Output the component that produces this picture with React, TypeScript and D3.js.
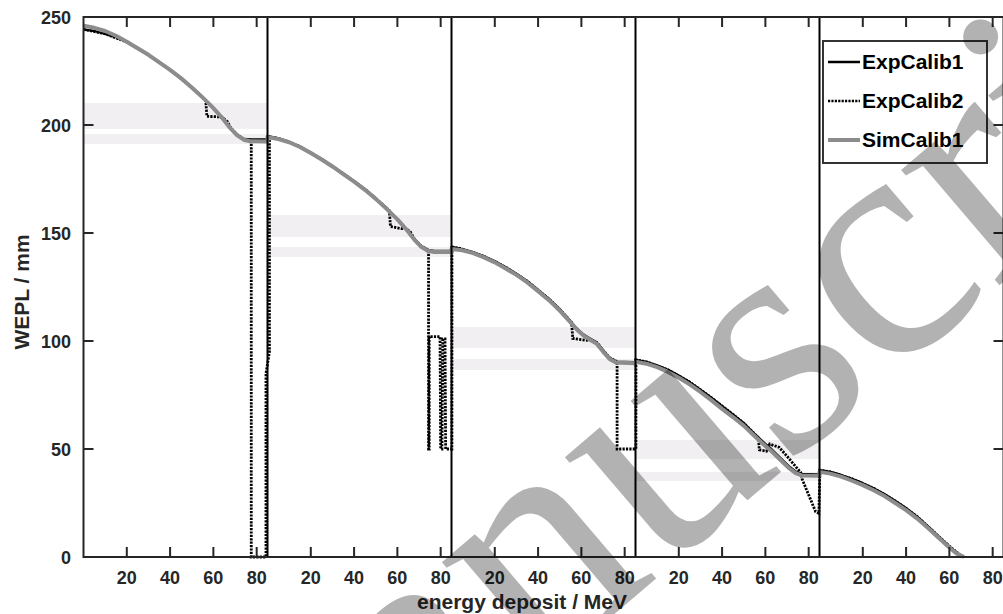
import React from 'react';
import * as d3 from 'd3';

const WIDTH = 1003;
const HEIGHT = 614;
const PANEL_SPAN = 85;
const PANEL_COUNT = 5;
const xTickLocal = [20, 40, 60, 80];
const yTicks = [0, 50, 100, 150, 200, 250];

type Pt = [number, number];

// ExpCalib1 (black solid), per panel, local energy deposit (MeV) vs WEPL (mm)
const expCalib1: Pt[][] = [
  [[0,244.3],[5,243.5],[10,242.2],[15,240.6],[20,238.4],[25,235.5],[30,232.5],[35,229],[40,225.5],[45,221.8],[50,217.5],[55,213],[60,208],[64,203.5],[68,198.5],[71,195.5],[74,193.6],[77,193.3],[85,193.3]],
  [[0,195],[5,193.8],[10,192.3],[15,190],[20,187.2],[25,184.2],[30,181],[35,177.5],[40,174],[45,170.3],[50,166],[55,161.5],[60,156.5],[64,152],[68,147],[71,144],[74,142.2],[77,141.7],[85,141.7]],
  [[0,143.6],[5,142.6],[10,141.2],[15,139.2],[20,137],[25,134.2],[30,131.2],[35,127.7],[40,123.7],[45,119.5],[50,114.7],[55,109.2],[58,105.7],[61,103],[64,101.2],[67,99.4],[70,95.7],[73,92.3],[76,90.5],[85,90.2]],
  [[0,91.3],[5,90.4],[10,88.8],[15,86.7],[20,84],[25,81],[30,77.5],[35,73.8],[40,69.8],[45,66],[50,62],[55,57],[60,52.4],[63,49.8],[67,45.8],[71,42],[74,39.6],[77,38.5],[85,38.3]],
  [[0,40.2],[5,39.4],[10,38],[15,36.2],[20,34.2],[25,31.8],[30,29.2],[35,26],[40,22.7],[45,18.8],[50,14.3],[55,9.6],[60,5],[63,2.3],[66.2,0]],
];

// ExpCalib2 (black dotted)
const expCalib2: Pt[][] = [
  [[0,244.3],[10,242.2],[20,238.4],[30,232.5],[40,225.5],[50,217.5],[56.5,211.3],[57,204],[62,203.8],[64,203.6],[66.5,201.5],[68,198.6],[71,195.5],[74,193.6],[77.5,193.1],[77.5,0],[84.3,0],[84.3,85]],
  [[0.9,95],[0.9,194.3],[5,193.8],[15,190],[25,184.2],[35,177.5],[45,170.3],[50,166],[55,161.5],[56.3,160.3],[56.8,153],[62,152],[64,152],[66,150.5],[68,147],[71,144],[74.4,142.1],[74.4,50],[74.7,50],[74.7,102],[79.7,102],[80,50],[80.6,50],[81,101],[82,101],[82.3,50],[84.8,50]],
  [[0.2,50],[0.2,143.6],[5,142.6],[15,139.2],[25,134.2],[35,127.7],[45,119.5],[50,114.7],[55.5,108.6],[56,101.2],[62,100.3],[64.5,100.5],[67.5,99],[70,95.7],[73,92.3],[76.5,90.4],[76.5,50],[84.8,50]],
  [[0.2,50],[0.2,91.3],[5,90.4],[15,86.7],[25,81],[35,73.8],[45,66],[50,62],[55,57],[56.8,55.2],[57.2,49.6],[60.5,49],[62,52.3],[66.3,50.8],[70,46.7],[73,43],[76.3,39.2],[77,36],[83.2,21],[84.7,20.2]],
  [[0.2,40.2],[5,39.4],[15,36.2],[25,31.8],[35,26],[45,18.8],[55,9.6],[60,5],[66.2,0]],
];

// SimCalib1 (grey solid)
const simCalib1: Pt[][] = [
  [[0,246],[5,245],[10,243.5],[15,241.3],[20,238.5],[25,235.5],[30,232.5],[35,229],[40,225.5],[45,221.7],[50,217.4],[55,212.8],[60,207.8],[64,203.3],[68,198.3],[71,195.2],[74,193.2],[77,192.5],[85,192.4]],
  [[0,194.4],[5,193.5],[10,192],[15,189.8],[20,187],[25,184],[30,180.8],[35,177.3],[40,173.8],[45,170],[50,165.8],[55,161.2],[60,156.3],[64,151.8],[68,146.7],[71,143.6],[74,141.8],[77,141.2],[85,141.2]],
  [[0,142.6],[5,142],[10,140.7],[15,138.7],[20,136.4],[25,133.6],[30,130.6],[35,127.1],[40,123.1],[45,118.9],[50,114.1],[55,108.6],[58,105.2],[61,102.5],[64,100.6],[67,98.8],[70,95.1],[73,91.7],[76,90],[85,89.7]],
  [[0,90.4],[5,89.5],[10,87.9],[15,85.7],[20,83],[25,79.9],[30,76.4],[35,72.6],[40,68.6],[45,64.8],[50,60.8],[55,56],[60,51.4],[63,48.8],[67,44.9],[71,41.1],[74,38.8],[77,37.7],[85,37.6]],
  [[0,39.4],[5,38.6],[10,37.2],[15,35.3],[20,33.3],[25,30.9],[30,28.2],[35,25],[40,21.7],[45,17.9],[50,13.5],[55,8.9],[60,4.4],[63,1.8],[66.8,0]],
];

// shaded WEPL bands per panel [low, high]
const bandUpper: Pt[] = [[198.2, 210.2], [148.1, 158.3], [96.8, 106.5], [45.4, 54.2]];
const bandLower: Pt[] = [[191.2, 195.8], [138.9, 143.5], [86.6, 91.7], [35.2, 39.4]];

const legendItems = ['ExpCalib1', 'ExpCalib2', 'SimCalib1'];

export default function App() {
  const left = 83.5, right = 1003.5, top = 17, bottom = 557;
  const x = d3.scaleLinear().domain([0, PANEL_SPAN * PANEL_COUNT]).range([left, right]);
  const y = d3.scaleLinear().domain([0, 250]).range([bottom, top]);
  const toGlobal = (arr: Pt[][]): Pt[] =>
    arr.flatMap((panel, i) => panel.map(([e, w]) => [e + i * PANEL_SPAN, w] as Pt));
  const line = d3.line<Pt>().x((d) => x(d[0])).y((d) => y(d[1]));
  const panels = d3.range(PANEL_COUNT);
  const xTicks = panels.flatMap((p) => xTickLocal.map((t) => ({ v: t + p * PANEL_SPAN, label: t })));
  const font = "'Liberation Sans', Arial, Helvetica, sans-serif";
  const axisColor = '#262626';
  const tickLen = 10;
  const dotted = '2.2,1.2';

  return (
    <svg width={WIDTH} height={HEIGHT} style={{ position: 'absolute', left: 0, top: 0, background: '#fff' }}>
      <rect width={WIDTH} height={HEIGHT} fill="#fff" />
      {/* bands */}
      {bandUpper.map((b, i) => (
        <rect key={'bu' + i} x={x(i * PANEL_SPAN)} width={x(PANEL_SPAN) - x(0)} y={y(b[1])} height={y(b[0]) - y(b[1])} fill="#f1eff1" />
      ))}
      {bandLower.map((b, i) => (
        <rect key={'bl' + i} x={x(i * PANEL_SPAN)} width={x(PANEL_SPAN) - x(0)} y={y(b[1])} height={y(b[0]) - y(b[1])} fill="#f1eff1" />
      ))}
      {/* series */}
      <path d={line(toGlobal(expCalib1)) || ''} fill="none" stroke="#000" strokeWidth={2.2} strokeLinejoin="round" />
      <path d={line(toGlobal(expCalib2)) || ''} fill="none" stroke="#000" strokeWidth={2.8} strokeDasharray={dotted} />
      <path d={line(toGlobal(simCalib1)) || ''} fill="none" stroke="#8c8c8c" strokeWidth={4} strokeLinejoin="round" />
      {/* panel separators */}
      {panels.slice(1).map((p) => (
        <line key={'sep' + p} x1={x(p * PANEL_SPAN)} x2={x(p * PANEL_SPAN)} y1={y(250)} y2={y(0)} stroke="#000" strokeWidth={2} />
      ))}
      {/* axes box */}
      <rect x={left} y={top} width={right - left} height={bottom - top} fill="none" stroke={axisColor} strokeWidth={2} />
      {xTicks.map((t, i) => (
        <g key={'xt' + i}>
          <line x1={x(t.v)} x2={x(t.v)} y1={bottom} y2={bottom - tickLen} stroke={axisColor} strokeWidth={2} />
          <line x1={x(t.v)} x2={x(t.v)} y1={top} y2={top + tickLen} stroke={axisColor} strokeWidth={2} />
          <text x={x(t.v)} y={584} textAnchor="middle" fontFamily={font} fontWeight="bold" fontSize={18} fill={axisColor}>{t.label}</text>
        </g>
      ))}
      {yTicks.map((t) => (
        <g key={'yt' + t}>
          <line x1={left} x2={left + tickLen} y1={y(t)} y2={y(t)} stroke={axisColor} strokeWidth={2} />
          <line x1={right} x2={right - tickLen} y1={y(t)} y2={y(t)} stroke={axisColor} strokeWidth={2} />
          <text x={71} y={y(t) + 7} textAnchor="end" fontFamily={font} fontWeight="bold" fontSize={18} fill={axisColor}>{t}</text>
        </g>
      ))}
      <text x={522} y={609} textAnchor="middle" fontFamily={font} fontWeight="bold" fontSize={21} fill={axisColor}>energy deposit / MeV</text>
      <text transform={`translate(29,292) rotate(-90)`} textAnchor="middle" fontFamily={font} fontWeight="bold" fontSize={21} fill={axisColor}>WEPL / mm</text>
      {/* legend */}
      <g>
        <rect x={823} y={41} width={164} height={122} fill="#fff" stroke="#333" strokeWidth={2} />
        {legendItems.map((name, i) => {
          const ly = 62 + i * 39;
          return (
            <g key={name}>
              {i === 0 && <line x1={828} x2={860} y1={ly} y2={ly} stroke="#000" strokeWidth={2.5} />}
              {i === 1 && <line x1={828} x2={860} y1={ly} y2={ly} stroke="#000" strokeWidth={2.5} strokeDasharray={dotted} />}
              {i === 2 && <line x1={828} x2={860} y1={ly} y2={ly} stroke="#8c8c8c" strokeWidth={4} />}
              <text x={862} y={ly + 7} fontFamily={font} fontWeight="bold" fontSize={21} fill="#000">{name}</text>
            </g>
          );
        })}
      </g>
      {/* watermark */}
      <text transform={`translate(200,968) rotate(-40.5)`} fontFamily="'Liberation Serif', 'Times New Roman', serif" fontSize={330} fill="#000" fillOpacity={0.3}>Manuscript</text>
    </svg>
  );
}
